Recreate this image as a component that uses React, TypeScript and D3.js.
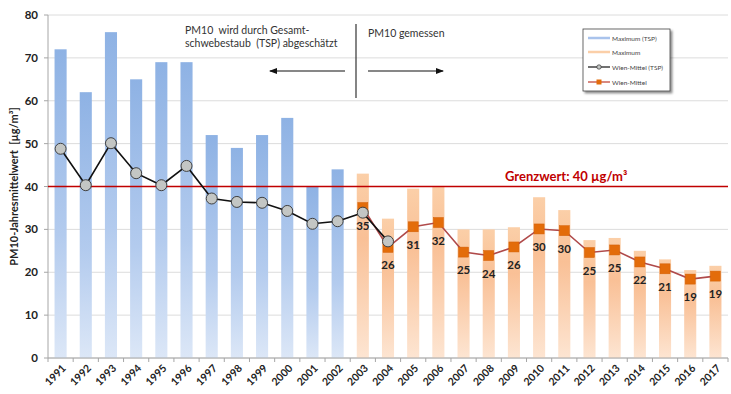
import React from "react";
import * as d3 from "d3";

const years = d3.range(1991, 2018).map(String);
const maxTspYears = years.slice(0, 12);
const maxTsp = [72, 62, 76, 65, 69, 69, 52, 49, 52, 56, 40, 44];
const maxYears = years.slice(12);
const maxVals = [43, 32.5, 39.5, 40, 30, 30, 30.5, 37.5, 34.5, 27.5, 28, 25, 23, 20.5, 21.5];
const meanTspYears = years.slice(0, 14);
const meanTsp = [48.8, 40.3, 50.1, 43.1, 40.3, 44.8, 37.2, 36.4, 36.2, 34.3, 31.3, 31.9, 33.9, 27.2];
const meanYears = years.slice(12);
const meanVals = [35.1, 25.8, 30.6, 31.6, 24.7, 23.9, 25.9, 30.1, 29.7, 24.6, 25.2, 22.4, 20.8, 18.4, 19.1];
const meanLabels = ["35", "26", "31", "32", "25", "24", "26", "30", "30", "25", "25", "22", "21", "19", "19"];
const yTicks = [0, 10, 20, 30, 40, 50, 60, 70, 80];
const limitValue = 40;

const W = 731, H = 394;
const left = 48, right = 728, top = 15, bottom = 358;
const FONT = "Lato, 'Open Sans', sans-serif";

export default function App() {
  const x = d3.scaleBand().domain(years).range([left, right]).paddingInner(0.52).paddingOuter(0.26);
  const y = d3.scaleLinear().domain([0, 80]).range([bottom, top]);
  const step = x.step();
  const bw = x.bandwidth();
  const cx = (yr: string) => (x(yr) as number) + bw / 2;

  const lineTsp = d3.line<number>().x((_, i) => cx(meanTspYears[i])).y((d) => y(d));
  const lineMean = d3.line<number>().x((_, i) => cx(meanYears[i])).y((d) => y(d));

  const boundaries = d3.range(years.length + 1).map((i) => left + i * step);

  return (
    <svg width={W} height={H} style={{ position: "absolute", left: 0, top: 0 }} fontFamily={FONT}>
      <defs>
        <linearGradient id="gBlue" x1="0" y1="0" x2="0" y2="1">
          <stop offset="0%" stopColor="#8eb2e4" />
          <stop offset="60%" stopColor="#b3cbee" />
          <stop offset="100%" stopColor="#dce7f7" />
        </linearGradient>
        <linearGradient id="gOrange" x1="0" y1="0" x2="0" y2="1">
          <stop offset="0%" stopColor="#fbcfa8" />
          <stop offset="35%" stopColor="#f9c096" />
          <stop offset="100%" stopColor="#fde5d2" />
        </linearGradient>
        <filter id="shadow" x="-10%" y="-10%" width="130%" height="130%">
          <feDropShadow dx="2" dy="2" stdDeviation="1.2" floodColor="#000" floodOpacity="0.45" />
        </filter>
        <marker id="arrowHead" markerWidth="8" markerHeight="6" refX="7" refY="3" orient="auto" markerUnits="userSpaceOnUse">
          <path d="M0,0 L8,3 L0,6 Z" fill="#111" />
        </marker>
      </defs>
      <rect width={W} height={H} fill="#fff" />

      {/* gridlines */}
      {yTicks.map((t) => (
        <line key={"g" + t} x1={left} x2={right} y1={y(t)} y2={y(t)} stroke="#dcdcdc" strokeWidth={1} />
      ))}

      {/* bars */}
      {maxTsp.map((v, i) => (
        <rect key={"bt" + i} x={x(maxTspYears[i])} y={y(v)} width={bw} height={y(0) - y(v)} fill="url(#gBlue)" />
      ))}
      {maxVals.map((v, i) => (
        <rect key={"bo" + i} x={x(maxYears[i])} y={y(v)} width={bw} height={y(0) - y(v)} fill="url(#gOrange)" />
      ))}

      {/* axes */}
      <line x1={left} x2={left} y1={top} y2={bottom} stroke="#a6a6a6" />
      {yTicks.map((t) => (
        <g key={"yt" + t}>
          <line x1={left - 4} x2={left} y1={y(t)} y2={y(t)} stroke="#a6a6a6" />
          <text x={38} y={y(t) + 4} textAnchor="end" fontSize={11.5} fontWeight="bold" fill="#222">{t}</text>
        </g>
      ))}
      <line x1={left} x2={right} y1={bottom} y2={bottom} stroke="#a6a6a6" />
      {boundaries.map((bx, i) => (
        <line key={"xt" + i} x1={bx} x2={bx} y1={bottom} y2={bottom + 4} stroke="#a6a6a6" />
      ))}
      {years.map((yr) => (
        <text key={"xl" + yr} transform={`translate(${cx(yr) + 6},${bottom + 11}) rotate(-45)`} textAnchor="end" fontSize={10.5} fontWeight="bold" fill="#222">{yr}</text>
      ))}
      <text transform={`translate(18,${(top + bottom) / 2}) rotate(-90)`} textAnchor="middle" fontSize={11} fontWeight="bold" fill="#222" style={{ whiteSpace: "pre" }}>PM10-Jahresmittelwert  [µg/m³]</text>

      {/* limit line */}
      <line x1={left} x2={right} y1={y(limitValue)} y2={y(limitValue)} stroke="#c00000" strokeWidth={1.5} />
      <text x={505} y={y(limitValue) - 6} fontSize={13} fontWeight="bold" fill="#c00000">Grenzwert: 40 µg/m³</text>

      {/* annotations */}
      <text x={185} y={34} fontSize={10.5} fill="#333" style={{ whiteSpace: "pre" }}>PM10  wird durch Gesamt-</text>
      <text x={185} y={47} fontSize={10.5} fill="#333" style={{ whiteSpace: "pre" }}>schwebestaub  (TSP) abgeschätzt</text>
      <text x={368} y={37} fontSize={10.5} fill="#333">PM10 gemessen</text>
      <line x1={356} x2={356} y1={24} y2={98} stroke="#333" strokeWidth={1.2} />
      <line x1={345} x2={270} y1={71} y2={71} stroke="#111" strokeWidth={1.2} markerEnd="url(#arrowHead)" />
      <line x1={368} x2={443} y1={71} y2={71} stroke="#111" strokeWidth={1.2} markerEnd="url(#arrowHead)" />

      {/* Wien-Mittel (measured) */}
      <path d={lineMean(meanVals) || ""} fill="none" stroke="#b04a4a" strokeWidth={1.6} />
      {meanVals.map((v, i) => (
        <rect key={"m" + i} x={cx(meanYears[i]) - 5} y={y(v) - 5} width={10} height={10} fill="#e36c0a" stroke="#d35f05" strokeWidth={0.5} />
      ))}
      {meanVals.map((v, i) => (
        <text key={"ml" + i} x={cx(meanYears[i])} y={y(v) + 22} textAnchor="middle" fontSize={11.5} fontWeight="bold" fill="#222">{meanLabels[i]}</text>
      ))}

      {/* Wien-Mittel (TSP) */}
      <path d={lineTsp(meanTsp) || ""} fill="none" stroke="#111" strokeWidth={1.6} />
      {meanTsp.map((v, i) => (
        <circle key={"t" + i} cx={cx(meanTspYears[i])} cy={y(v)} r={5.5} fill="#c3c6c4" stroke="#404040" strokeWidth={1} />
      ))}

      {/* legend */}
      <g>
        <rect x={583} y={29} width={87} height={62} fill="#fff" stroke="#444" strokeWidth={0.8} filter="url(#shadow)" />
        <line x1={588} x2={610} y1={38} y2={38} stroke="#a9c3ec" strokeWidth={2.5} />
        <text x={612} y={40.5} fontSize={6.5} fill="#444">Maximum (TSP)</text>
        <line x1={588} x2={610} y1={52} y2={52} stroke="#fbcfa8" strokeWidth={2.5} />
        <text x={612} y={54.5} fontSize={6.5} fill="#444">Maximum</text>
        <line x1={588} x2={610} y1={67} y2={67} stroke="#111" strokeWidth={1.2} />
        <circle cx={599} cy={67} r={2.2} fill="#c3c6c4" stroke="#333" strokeWidth={0.7} />
        <text x={612} y={69.5} fontSize={6.5} fill="#444">Wien-Mittel (TSP)</text>
        <line x1={588} x2={610} y1={82} y2={82} stroke="#c0392b" strokeWidth={1.2} />
        <rect x={596.5} y={79.5} width={5} height={5} fill="#e36c0a" />
        <text x={612} y={84.5} fontSize={6.5} fill="#444">Wien-Mittel</text>
      </g>
    </svg>
  );
}
